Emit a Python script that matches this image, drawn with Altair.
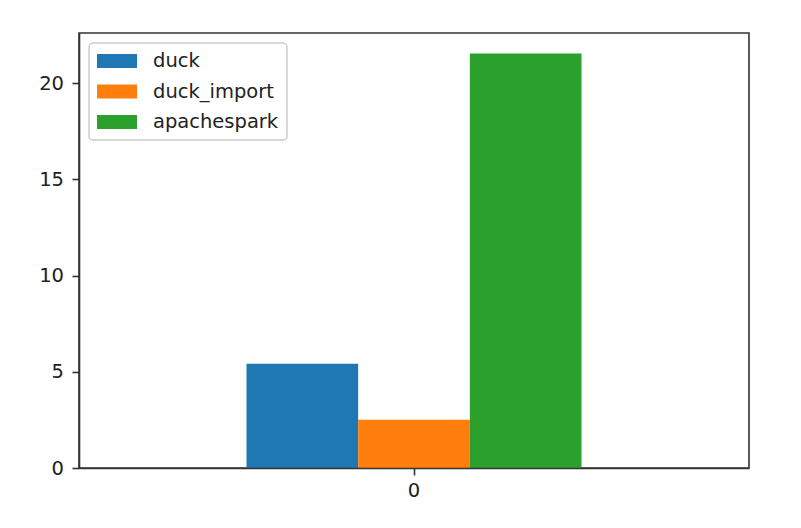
import altair as alt
import pandas as pd

categories = ["0"]
series = ["duck", "duck_import", "apachespark"]
values = [5.42, 2.51, 21.54]
colors = ["#1f77b4", "#ff7f0e", "#2ca02c"]
y_ticks = [0, 5, 10, 15, 20]

df = pd.DataFrame({
    "category": [categories[0]] * len(series),
    "series": series,
    "value": values,
})

FONT = "DejaVu Sans"
FS = 19.5
INK = "#333333"

chart = alt.Chart(df).mark_bar(strokeWidth=0).encode(
    x=alt.X("category:N", title=None,
            scale=alt.Scale(paddingInner=0, paddingOuter=0.5),
            axis=alt.Axis(labelAngle=0, domain=True, zindex=1, labelPadding=6)),
    xOffset=alt.XOffset("series:N", sort=series,
                        scale=alt.Scale(paddingInner=0, paddingOuter=0)),
    y=alt.Y("value:Q", title=None,
            scale=alt.Scale(domain=[0, 22.6], nice=False, zero=True),
            axis=alt.Axis(values=y_ticks, domain=True, zindex=1, labelPadding=8.5)),
    color=alt.Color("series:N", sort=series,
                    scale=alt.Scale(domain=series, range=colors),
                    legend=alt.Legend(title=None, orient="none",
                                      legendX=10, legendY=10)),
).properties(
    width=670,
    height=435,
    autosize=alt.AutoSizeParams(type="none"),
    padding={"left": 71, "top": 25, "right": 44, "bottom": 44},
).configure(
    font=FONT,
    background="white",
).configure_view(
    stroke=INK,
    strokeWidth=1.6,
).configure_axis(
    grid=False,
    domainColor=INK,
    domainWidth=1.6,
    tickColor=INK,
    tickWidth=1.6,
    tickSize=7,
    labelFont=FONT,
    labelFontSize=FS,
    labelColor="#222222",
).configure_legend(
    symbolType="M-1,-0.7L3,-0.7L3,0.7L-1,0.7Z",
    symbolSize=400,
    symbolStrokeWidth=0,
    symbolOpacity=1,
    labelOffset=36,
    labelFont=FONT,
    labelFontSize=FS,
    labelColor="#222222",
    rowPadding=10.5,
    padding=8,
    strokeColor="#cccccc",
    strokeWidth=1.5,
    cornerRadius=4,
    fillColor="rgba(255,255,255,0.8)",
)

chart.save("out.html", embed_options={"renderer": "svg", "actions": False})
